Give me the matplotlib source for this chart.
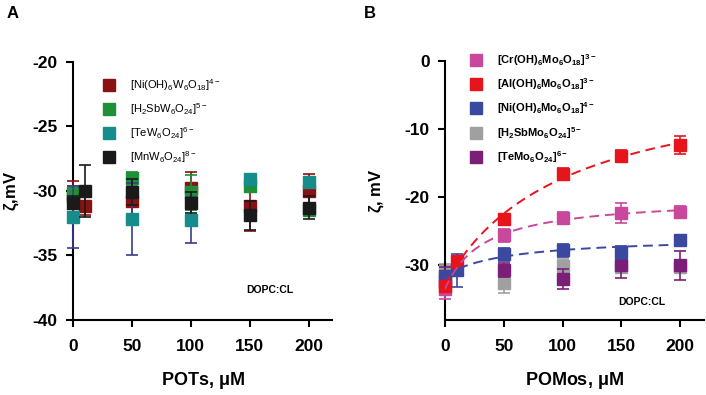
import numpy as np
import matplotlib
matplotlib.use('Agg')
import matplotlib.pyplot as plt
from matplotlib.lines import Line2D

plt.rcParams['font.family'] = ['Liberation Sans', 'DejaVu Sans']
plt.rcParams['mathtext.default'] = 'regular'
plt.rcParams['axes.unicode_minus'] = False

# ---- panel A data (POTs) ----
a_labels = [r'[Ni(OH)$_6$W$_6$O$_{18}$]$^{4-}$',
            r'[H$_2$SbW$_6$O$_{24}$]$^{5-}$',
            r'[TeW$_6$O$_{24}$]$^{6-}$',
            r'[MnW$_6$O$_{24}$]$^{8-}$']
a_colors = ['#8b1212', '#1f8f3a', '#178c8c', '#1a1a1a']
a_ecolors = ['#8b1212', '#1f8f3a', '#3b3b8f', '#1a1a1a']

ni_x = [0, 10, 50, 100, 150, 200]
ni_y = [-30.4, -31.2, -30.8, -29.8, -31.2, -30.0]
ni_e = [1.2, 0.7, 1.4, 1.3, 1.9, 1.3]

sb_x = [0, 50, 100, 150, 200]
sb_y = [-30.15, -29.0, -30.1, -29.6, -31.5]
sb_e = [0.5, 0.5, 1.35, 0.45, 0.3]

te_x = [0, 50, 100, 150, 200]
te_y = [-32.0, -32.2, -32.25, -29.1, -29.3]
te_e = [2.4, 2.8, 1.8, 0.3, 0.4]

mn_x = [0, 10, 50, 100, 150, 200]
mn_y = [-30.9, -30.0, -30.05, -30.9, -31.9, -31.3]
mn_e = [0.5, 2.0, 1.0, 0.8, 1.1, 0.9]

# ---- panel B data (POMos) ----
b_labels = [r'[Cr(OH)$_6$Mo$_6$O$_{18}$]$^{3-}$',
            r'[Al(OH)$_6$Mo$_6$O$_{18}$]$^{3-}$',
            r'[Ni(OH)$_6$Mo$_6$O$_{18}$]$^{4-}$',
            r'[H$_2$SbMo$_6$O$_{24}$]$^{5-}$',
            r'[TeMo$_6$O$_{24}$]$^{6-}$']
b_colors = ['#c8489c', '#e8141c', '#3a48a0', '#a0a0a0', '#7a1e78']

cr_x = [0, 50, 100, 150, 200]
cr_y = [-33.5, -25.6, -23.0, -22.3, -22.2]
cr_e = [1.4, 1.0, 0.9, 1.45, 0.9]

al_x = [0, 10, 50, 100, 150, 200]
al_y = [-33.0, -29.4, -23.2, -16.6, -13.9, -12.3]
al_e = [0.3, 0.4, 0.5, 0.9, 0.75, 1.3]

nim_x = [0, 10, 50, 100, 150, 200]
nim_y = [-31.5, -30.7, -28.4, -27.8, -28.1, -26.3]
nim_e = [0.5, 2.4, 1.0, 1.0, 0.9, 0.4]

sbm_x = [0, 50, 100, 150, 200]
sbm_y = [-30.8, -32.6, -30.1, -30.2, -30.3]
sbm_e = [1.0, 1.4, 1.0, 0.8, 0.8]

tem_x = [0, 50, 100, 150, 200]
tem_y = [-32.3, -30.7, -32.0, -30.0, -30.0]
tem_e = [2.0, 1.0, 1.4, 1.9, 2.1]


def hyper_fit(x, y):
    # one-site saturation y = y0 + b*x/(k+x), grid search over k
    x = np.asarray(x, float); y = np.asarray(y, float)
    best = None
    for k in np.linspace(1, 400, 800):
        A = np.column_stack([np.ones_like(x), x / (k + x)])
        c, *_ = np.linalg.lstsq(A, y, rcond=None)
        r = np.sum((A @ c - y) ** 2)
        if best is None or r < best[0]:
            best = (r, k, c)
    _, k, c = best
    xs = np.linspace(0, 200, 200)
    return xs, c[0] + c[1] * xs / (k + xs)


def style(ax):
    for s in ['top', 'right']:
        ax.spines[s].set_visible(False)
    for s in ['left', 'bottom']:
        ax.spines[s].set_linewidth(1.5)
    ax.tick_params(width=1.5, length=5, labelsize=12.5)
    ax.tick_params(axis='x', pad=9)
    ax.tick_params(axis='y', pad=6)
    for lab in ax.get_xticklabels() + ax.get_yticklabels():
        lab.set_fontweight('bold')


def errplot(ax, x, y, e, c, ec, z):
    ax.errorbar(x, y, yerr=e, fmt='s', ms=8, color=c, ecolor=ec,
                elinewidth=1.2, capsize=4.5, capthick=1.2, zorder=z, clip_on=False)


fig = plt.figure(figsize=(7.06, 3.95), dpi=100)
axA = fig.add_axes([0.1034, 0.190, 0.367, 0.653])
axB = fig.add_axes([0.630, 0.190, 0.367, 0.656])

# panel A
series_a = [(ni_x, ni_y, ni_e), (sb_x, sb_y, sb_e), (te_x, te_y, te_e), (mn_x, mn_y, mn_e)]
for i, (x, y, e) in enumerate(series_a):
    errplot(axA, x, y, e, a_colors[i], a_ecolors[i], 3 + i)
axA.set_xlim(0, 220)
axA.set_ylim(-40, -20)
axA.set_xticks([0, 50, 100, 150, 200])
axA.set_yticks([-40, -35, -30, -25, -20])
style(axA)
axA.set_xlabel(r'POTs, $\mu$M', fontsize=13, fontweight='bold', labelpad=11)
axA.set_ylabel(r'$\zeta$,mV', fontsize=12, fontweight='bold')
axA.yaxis.set_label_coords(-0.2, 0.5)
axA.text(147, -37.7, 'DOPC:CL', fontsize=7.5, fontweight='bold', va='center')
hA = [Line2D([], [], marker='s', ls='', ms=8, color=c) for c in a_colors]
axA.legend(hA, a_labels, loc='upper left', bbox_to_anchor=(0.08, 0.96), frameon=False,
           fontsize=8, handletextpad=0.9, labelspacing=0.75, borderaxespad=0)

# panel B
series_b = [(cr_x, cr_y, cr_e), (al_x, al_y, al_e), (nim_x, nim_y, nim_e),
            (sbm_x, sbm_y, sbm_e), (tem_x, tem_y, tem_e)]
zb = [4, 6, 5, 2, 3]
for i, (x, y, e) in enumerate(series_b):
    errplot(axB, x, y, e, b_colors[i], b_colors[i], zb[i])
for i in [0, 1, 2]:
    xs, ys = hyper_fit(series_b[i][0], series_b[i][1])
    axB.plot(xs, ys, ls=(0, (5, 3)), lw=1.4, color=b_colors[i], zorder=7)
axB.set_xlim(0, 220)
axB.set_ylim(-38, 0)
axB.set_xticks([0, 50, 100, 150, 200])
axB.set_yticks([-30, -20, -10, 0])
style(axB)
axB.set_xlabel(r'POMos, $\mu$M', fontsize=13, fontweight='bold', labelpad=11)
axB.set_ylabel(r'$\zeta$, mV', fontsize=12, fontweight='bold')
axB.yaxis.set_label_coords(-0.225, 0.5)
axB.text(147, -35.4, 'DOPC:CL', fontsize=7.5, fontweight='bold', va='center')
hB = [Line2D([], [], marker='s', ls='', ms=8, color=c) for c in b_colors]
axB.legend(hB, b_labels, loc='upper left', bbox_to_anchor=(0.06, 1.05), frameon=False,
           prop={'size': 8, 'weight': 'bold'}, handletextpad=0.9, labelspacing=0.75,
           borderaxespad=0)

fig.text(0.010, 0.965, 'A', fontsize=12, fontweight='bold', va='center')
fig.text(0.516, 0.965, 'B', fontsize=12, fontweight='bold', va='center')

fig.savefig('out.png', dpi=100)
